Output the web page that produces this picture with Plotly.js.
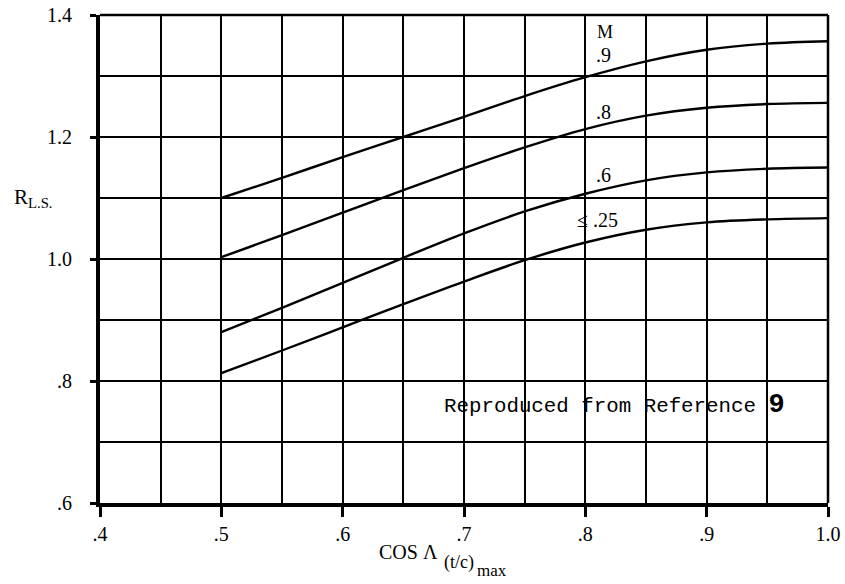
<!DOCTYPE html>
<html><head><meta charset="utf-8">
<script src="https://cdn.plot.ly/plotly-3.0.1.min.js"></script>
<style>body{margin:0;background:#fff}#chart{width:845px;height:584px}</style>
</head><body><div id="chart"></div>
<script>
const cosLambda = [0.50, 0.55, 0.60, 0.65, 0.70, 0.75, 0.80, 0.85, 0.90, 0.95, 1.00];
const rM09  = [1.100, 1.133, 1.167, 1.200, 1.233, 1.267, 1.298, 1.324, 1.343, 1.353, 1.357];
const rM08  = [1.003, 1.039, 1.076, 1.113, 1.149, 1.183, 1.213, 1.235, 1.248, 1.254, 1.256];
const rM06  = [0.880, 0.920, 0.961, 1.002, 1.042, 1.078, 1.107, 1.129, 1.142, 1.148, 1.150];
const rM025 = [0.813, 0.850, 0.888, 0.926, 0.963, 0.998, 1.027, 1.048, 1.060, 1.065, 1.067];
const seriesNames = ['.9', '.8', '.6', '≤ .25'];
const xTickVals = [0.4, 0.5, 0.6, 0.7, 0.8, 0.9, 1.0];
const xTickText = ['.4', '.5', '.6', '.7', '.8', '.9', '1.0'];
const yTickVals = [0.6, 0.8, 1.0, 1.2, 1.4];
const yTickText = ['.6', '.8', '1.0', '1.2', '1.4'];

const serif = 'Liberation Serif';
const mono = 'Liberation Mono';
const allSeries = [rM09, rM08, rM06, rM025];
const traces = allSeries.map((ys, i) => ({
  x: cosLambda, y: ys, type: 'scatter', mode: 'lines', name: seriesNames[i],
  line: {color: '#000', width: 2.4, shape: 'spline', smoothing: 1},
  hoverinfo: 'skip'
}));

const layout = {
  width: 845, height: 584,
  margin: {l: 100, r: 17, t: 15, b: 81},
  paper_bgcolor: '#fff', plot_bgcolor: '#fff',
  showlegend: false,
  font: {family: serif, color: '#000', size: 20},
  xaxis: {
    range: [0.4, 1.0], tickvals: xTickVals, ticktext: xTickText,
    showgrid: true, gridcolor: '#000', gridwidth: 2,
    minor: {dtick: 0.05, tick0: 0.4, showgrid: true, gridcolor: '#000', gridwidth: 2, ticks: ''},
    ticks: 'outside', ticklen: 10, tickwidth: 3, tickcolor: '#000',
    showline: true, linecolor: '#000', linewidth: 4,
    zeroline: false, tickfont: {family: serif, size: 20}, ticklabelstandoff: 0
  },
  yaxis: {
    range: [0.6, 1.4], tickvals: yTickVals, ticktext: yTickText,
    showgrid: true, gridcolor: '#000', gridwidth: 2,
    minor: {dtick: 0.1, tick0: 0.6, showgrid: true, gridcolor: '#000', gridwidth: 2, ticks: ''},
    ticks: 'outside', ticklen: 6, tickwidth: 3, tickcolor: '#000',
    showline: true, linecolor: '#000', linewidth: 4,
    zeroline: false, tickfont: {family: serif, size: 20}, ticklabelstandoff: 14
  },
  shapes: [
    {type: 'line', xref: 'paper', yref: 'paper', x0: 1, x1: 1, y0: 0, y1: 1, line: {color: '#000', width: 2.5}},
    {type: 'line', xref: 'paper', yref: 'paper', x0: 0, x1: 1, y0: 1, y1: 1, line: {color: '#000', width: 2.5}}
  ],
  annotations: [
    {xref: 'paper', yref: 'paper', x: -0.121, y: 0.625, text: 'R<sub>L.S.</sub>', showarrow: false, xanchor: 'left', yanchor: 'middle', font: {family: serif, size: 21}},
    {xref: 'paper', yref: 'paper', x: 0.467, y: -0.1, text: 'COS Λ', showarrow: false, xanchor: 'right', yanchor: 'middle', font: {family: serif, size: 20}},
    {xref: 'paper', yref: 'paper', x: 0.4698, y: -0.121, text: '(t/c)', showarrow: false, xanchor: 'left', yanchor: 'middle', font: {family: serif, size: 18}},
    {xref: 'paper', yref: 'paper', x: 0.515, y: -0.139, text: 'max', showarrow: false, xanchor: 'left', yanchor: 'middle', font: {family: serif, size: 17}},
    {x: 0.816, y: 1.372, text: 'M', showarrow: false, font: {family: serif, size: 18}},
    {x: 0.815, y: 1.334, text: seriesNames[0], showarrow: false, font: {family: serif, size: 20}},
    {x: 0.815, y: 1.241, text: seriesNames[1], showarrow: false, font: {family: serif, size: 20}},
    {x: 0.815, y: 1.138, text: seriesNames[2], showarrow: false, font: {family: serif, size: 20}},
    {x: 0.81, y: 1.064, text: seriesNames[3], showarrow: false, font: {family: serif, size: 20}},
    {x: 0.682, y: 0.761, text: 'Reproduced from Reference <b><span style="font-size:27px">9</span></b>', showarrow: false, xanchor: 'left', yanchor: 'middle', font: {family: mono, size: 20.8}}
  ]
};
Plotly.newPlot('chart', traces, layout, {displayModeBar: false, staticPlot: true});
</script>
</body></html>
